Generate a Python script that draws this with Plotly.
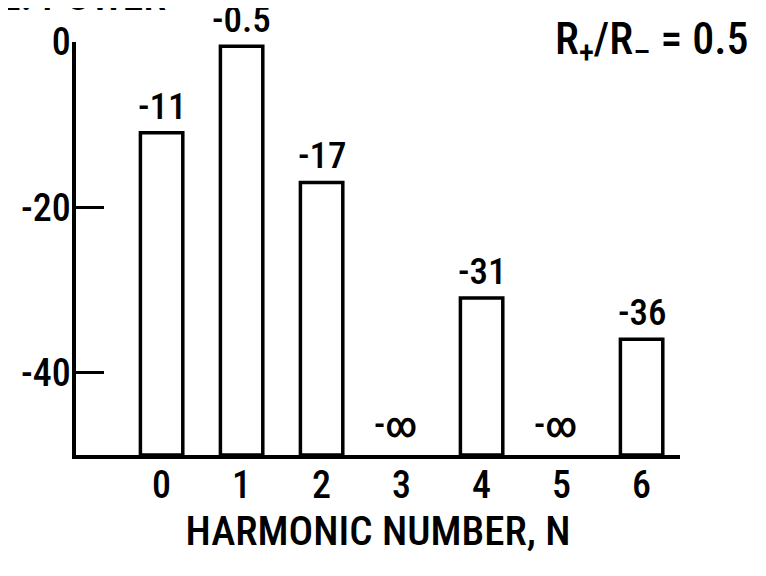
import plotly.graph_objects as go

harmonics = [0, 1, 2, 3, 4, 5, 6]
power_db = [-11, -0.5, -17, None, -31, None, -36]
value_labels = ["-11", "-0.5", "-17", "-\u221e", "-31", "-\u221e", "-36"]
y_ticks = [0, -20, -40]
y_tick_labels = ["0", "-20", "-40"]

FONT = "Roboto Condensed, DejaVu Sans Condensed, sans-serif"
y_min = -50

fig = go.Figure()
fig.add_trace(go.Bar(
    x=harmonics,
    y=[(v - y_min) if v is not None else None for v in power_db],
    base=y_min,
    width=0.53,
    marker=dict(color="white", line=dict(color="black", width=3.5)),
    hoverinfo="skip",
))

annotations = []
for h, v, lab in zip(harmonics, power_db, value_labels):
    if v is None:
        annotations.append(dict(x=h, y=y_min, text=lab, showarrow=False,
                                yanchor="middle", yshift=30, xshift=-6,
                                font=dict(size=36, family=FONT, color="black", weight=500)))
    else:
        annotations.append(dict(x=h, y=v, text=lab, showarrow=False,
                                yanchor="bottom", yshift=3,
                                font=dict(size=37, family=FONT, color="black", weight=500)))

annotations.append(dict(xref="paper", yref="paper", x=0.79, y=1.0, xanchor="left",
                        yanchor="middle", yshift=0, showarrow=False,
                        text="R<sub>+</sub>/R<sub>\u2013</sub> = 0.5",
                        font=dict(size=44, family=FONT, color="black", weight=500)))
annotations.append(dict(xref="paper", yref="paper", x=0.152, y=1.0, xanchor="right",
                        yanchor="bottom", yshift=20, showarrow=False,
                        text="REL. POWER",
                        font=dict(size=42, family=FONT, color="black", weight=500)))

fig.update_layout(
    width=766, height=576,
    margin=dict(l=68, r=94, t=32, b=129),
    paper_bgcolor="white", plot_bgcolor="white",
    showlegend=False,
    annotations=annotations,
    xaxis=dict(
        range=[-1.07, 6.48],
        tickmode="array", tickvals=harmonics, ticktext=[str(h) for h in harmonics],
        showgrid=False, zeroline=False,
        showline=True, linecolor="black", linewidth=3.5,
        ticks="", ticklabelstandoff=-6,
        tickfont=dict(size=38, family=FONT, color="black", weight=500),
        title=dict(text="HARMONIC NUMBER, N", standoff=4,
                   font=dict(size=41, family=FONT, color="black", weight=500)),
    ),
    yaxis=dict(
        range=[y_min, 0],
        tickmode="array", tickvals=y_ticks, ticktext=y_tick_labels,
        showgrid=False, zeroline=False,
        showline=True, linecolor="black", linewidth=3.5,
        ticks="inside", ticklen=28, tickwidth=2.5, tickcolor="black",
        ticklabelstandoff=-6,
        tickfont=dict(size=38, family=FONT, color="black", weight=500),
    ),
)

fig.write_html("out.html")
